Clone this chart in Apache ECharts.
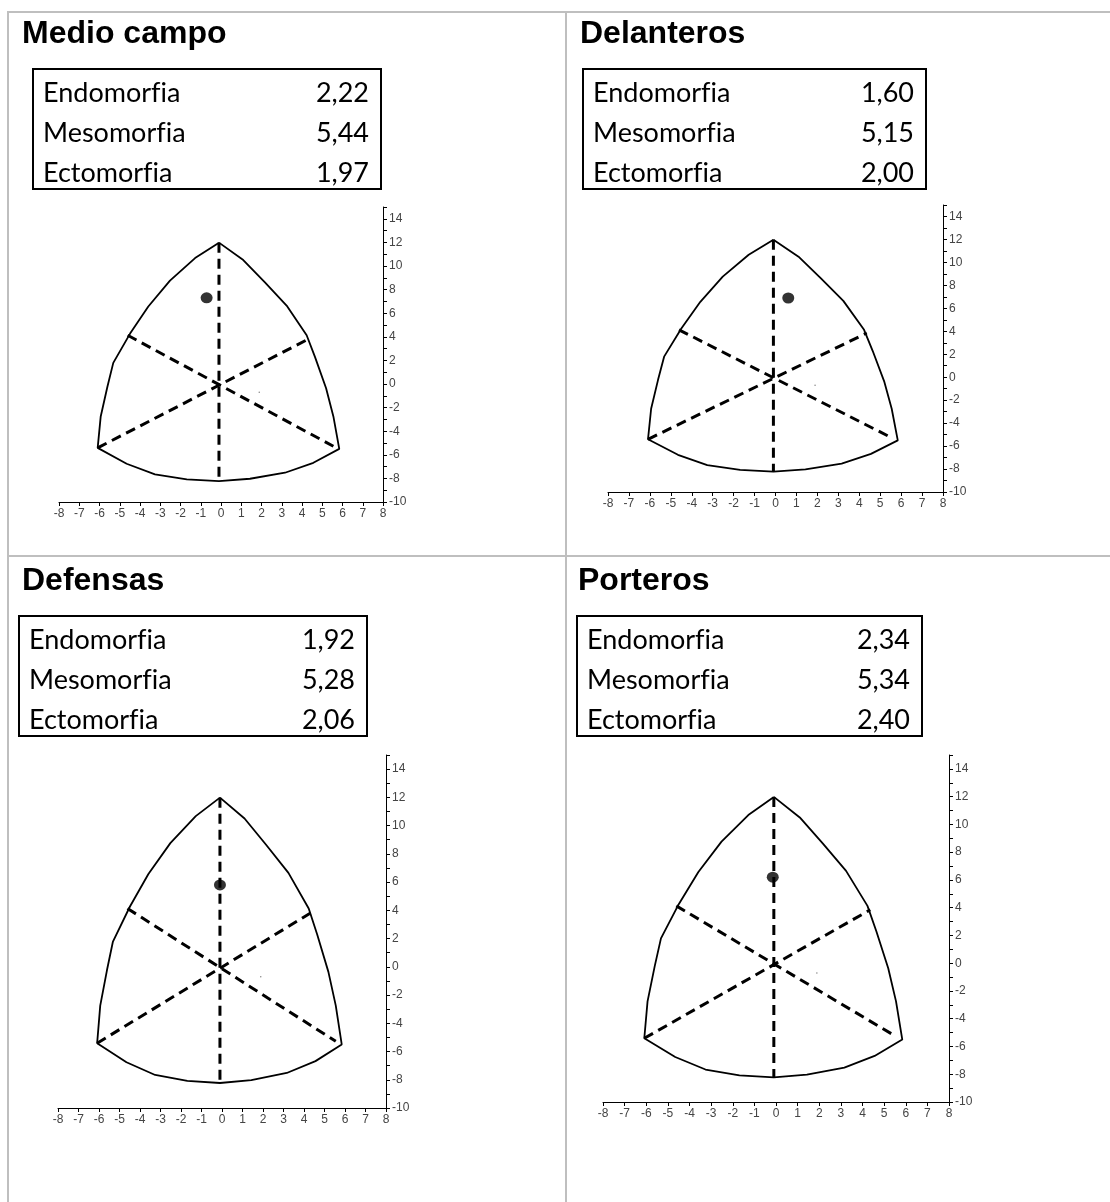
<!DOCTYPE html>
<html>
<head>
<meta charset="utf-8">
<script src="https://cdn.jsdelivr.net/npm/echarts@6/dist/echarts.min.js"></script>
<style>
  html, body { margin: 0; padding: 0; background: #fff; }
  #wrap { position: relative; width: 1110px; height: 1202px; overflow: hidden; }
  #chart { position: absolute; left: 0; top: 0; width: 1110px; height: 1202px; }
  .rule { position: absolute; background: #bfbfbf; }
  .title { position: absolute; font-family: "Liberation Sans", Arial, sans-serif; font-weight: bold; font-size: 32px; color: #000; line-height: 1; white-space: nowrap; }
  .box { position: absolute; border: 2px solid #000; box-sizing: border-box; background: #fff; }
  .row { position: absolute; left: 9px; right: 11px; height: 40px; line-height: 40px; font-family: Lato, "Open Sans", sans-serif; font-size: 27px; color: #000; font-variant-ligatures: none; }
  .row .v { position: absolute; right: 0; top: 0; }
</style>
</head>
<body>
<div id="wrap">
  <div id="chart"></div>
</div>
<script>
// ---- data ----
const panelNames = ["Medio campo", "Delanteros", "Defensas", "Porteros"];
const componentNames = ["Endomorfia", "Mesomorfia", "Ectomorfia"];
const medioCampo = [2.22, 5.44, 1.97];
const delanteros = [1.60, 5.15, 2.00];
const defensas = [1.92, 5.28, 2.06];
const porteros = [2.34, 5.34, 2.40];
// somatopoint positions (chart coordinates)
const pointX = [-0.71, 0.61, -0.10, -0.15];
const pointY = [7.30, 6.90, 5.80, 6.20];
// somatochart outline (chart coordinates)
const outlineX = [-0.10, 1.10, 2.17, 3.24, 4.23, 4.64, 5.19, 5.55, 5.84, 4.56, 3.16, 1.43, -0.10, -1.69, -3.26, -4.66, -6.09, -5.94, -5.61, -5.32, -4.49, -3.59, -2.52, -1.28, -0.10];
const outlineY = [11.98, 10.50, 8.61, 6.65, 4.13, 2.30, -0.36, -2.75, -5.50, -6.68, -7.52, -8.03, -8.23, -8.08, -7.66, -6.76, -5.41, -2.75, -0.23, 1.79, 4.27, 6.57, 8.76, 10.67, 11.98];
// dashed axes of the somatochart
const dashA = [[-0.10, 11.98], [-0.10, -8.23]];
const dashB = [[-4.61, 4.13], [5.55, -5.28]];
const dashC = [[-6.09, -5.41], [4.36, 3.85]];
const strayDot = [1.89, -0.70];
const xMin = -8, xMax = 8, yMin = -10, yMax = 15;

const values = [medioCampo, delanteros, defensas, porteros];

// ---- layout ----
const gridPos = [
  {left: 59, top: 207, width: 324, height: 295},
  {left: 608, top: 205, width: 335, height: 287},
  {left: 58, top: 755, width: 328, height: 353},
  {left: 603, top: 755, width: 346, height: 347}
];
const titlePos = [[22, 16], [580, 16], [22, 563], [578, 563]];
const boxPos = [[32, 68, 350, 122], [582, 68, 345, 122], [18, 615, 350, 122], [576, 615, 347, 122]];

const wrap = document.getElementById('wrap');
function addRule(l, t, w, h) {
  const d = document.createElement('div');
  d.className = 'rule';
  d.style.left = l + 'px'; d.style.top = t + 'px'; d.style.width = w + 'px'; d.style.height = h + 'px';
  wrap.appendChild(d);
}
addRule(7, 11, 1103, 2);
addRule(7, 11, 2, 1191);
addRule(565, 11, 2, 1191);
addRule(7, 555, 1103, 2);

const fmt = v => v.toFixed(2).replace('.', ',');
panelNames.forEach((name, i) => {
  const t = document.createElement('div');
  t.className = 'title';
  t.style.left = titlePos[i][0] + 'px'; t.style.top = titlePos[i][1] + 'px';
  t.textContent = name;
  wrap.appendChild(t);
  const b = document.createElement('div');
  b.className = 'box';
  b.style.left = boxPos[i][0] + 'px'; b.style.top = boxPos[i][1] + 'px';
  b.style.width = boxPos[i][2] + 'px'; b.style.height = boxPos[i][3] + 'px';
  componentNames.forEach((c, j) => {
    const r = document.createElement('div');
    r.className = 'row';
    r.style.top = (j * 40 + 2) + 'px';
    r.innerHTML = '<span></span><span class="v"></span>';
    r.children[0].textContent = c;
    r.children[1].textContent = fmt(values[i][j]);
    b.appendChild(r);
  });
  wrap.appendChild(b);
});

// ---- chart ----
const chart = echarts.init(document.getElementById('chart'), null, {renderer: 'canvas'});
const grids = [], xAxes = [], yAxes = [], series = [];
const outline = outlineX.map((x, k) => [x, outlineY[k]]);
const labelStyle = {fontFamily: 'Liberation Sans, Arial', fontSize: 12, color: '#444', margin: 6};
gridPos.forEach((g, i) => {
  grids.push(Object.assign({containLabel: false}, g));
  xAxes.push({
    type: 'value', gridIndex: i, min: xMin, max: xMax, interval: 1, position: 'bottom',
    axisLine: {onZero: false, lineStyle: {color: '#000', width: 1}},
    axisTick: {length: 4, lineStyle: {color: '#000'}},
    axisLabel: Object.assign({interval: 0}, labelStyle),
    splitLine: {show: false}
  });
  yAxes.push({
    type: 'value', gridIndex: i, min: yMin, max: yMax, interval: 1, position: 'right',
    axisLine: {onZero: false, lineStyle: {color: '#000', width: 1}},
    axisTick: {length: 4, lineStyle: {color: '#000'}},
    axisLabel: Object.assign({formatter: v => (v % 2 === 0 && v < 15) ? String(v) : ''}, labelStyle),
    splitLine: {show: false}
  });
  const base = {xAxisIndex: i, yAxisIndex: i, showSymbol: false, silent: true, animation: false};
  series.push(Object.assign({type: 'line', data: outline, lineStyle: {color: '#000', width: 1.8}}, base));
  [dashA, dashB, dashC].forEach(d => {
    series.push(Object.assign({type: 'line', data: d, lineStyle: {color: '#000', width: 3, type: [10, 6]}}, base));
  });
  series.push({type: 'scatter', xAxisIndex: i, yAxisIndex: i, data: [strayDot], symbolSize: 1.5,
    itemStyle: {color: '#666'}, silent: true, animation: false});
  series.push({type: 'scatter', xAxisIndex: i, yAxisIndex: i, data: [[pointX[i], pointY[i]]], symbol: 'circle',
    symbolSize: [12, 11], itemStyle: {color: '#000'}, silent: true, animation: false, z: 5});
});
chart.setOption({animation: false, grid: grids, xAxis: xAxes, yAxis: yAxes, series: series});
</script>
</body>
</html>
